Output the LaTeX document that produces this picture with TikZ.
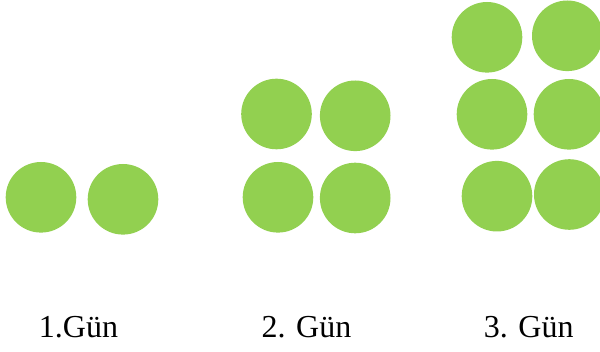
\documentclass[tikz,border=0pt]{standalone}
\usepackage{fontspec}
\setmainfont{Liberation Serif}
\definecolor{leaf}{HTML}{92D050}
\begin{document}
\begin{tikzpicture}[x=1pt,y=1pt,
  dot/.style={circle,fill=leaf,draw=none,minimum size=70.6pt,inner sep=0pt},
  daylabel/.style={anchor=base west,inner sep=0pt,font=\fontsize{32}{38}\selectfont}]
\useasboundingbox (0,0) rectangle (600,351);
\clip (0,0) rectangle (600,351);
% day 1: two circles
\node[dot] (a1) at (41,153.7) {};
\node[dot] (a2) at (123,151.7) {};
% day 2: four circles
\node[dot] (b1) at (276.5,237) {};
\node[dot] (b2) at (355.2,235.2) {};
\node[dot] (b3) at (278,153.7) {};
\node[dot] (b4) at (355.2,153) {};
% day 3: six circles
\node[dot] (c1) at (487,313.7) {};
\node[dot] (c2) at (567.3,315.2) {};
\node[dot] (c3) at (492,236.7) {};
\node[dot] (c4) at (569,236.7) {};
\node[dot] (c5) at (497,154.8) {};
\node[dot] (c6) at (569.3,156.5) {};
% labels
\node[daylabel] (l1) at (38.7,14) {1.Gün};
\node[daylabel] (l2) at (261.3,14) {2. Gün};
\node[daylabel] (l3) at (483.6,14) {3. Gün};
\end{tikzpicture}
\end{document}
